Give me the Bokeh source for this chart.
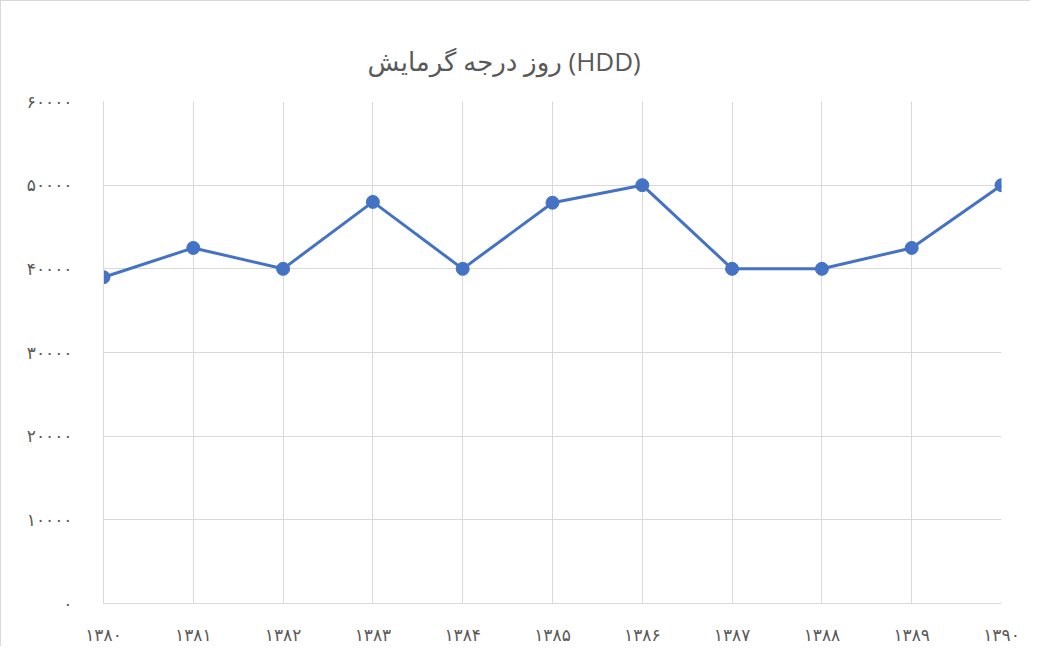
from bokeh.plotting import figure
from bokeh.models import Range1d, FixedTicker
from bokeh.embed import file_html
from bokeh.resources import INLINE

years = [1380, 1381, 1382, 1383, 1384, 1385, 1386, 1387, 1388, 1389, 1390]
hdd = [39000, 42500, 40000, 48000, 40000, 47900, 50000, 40000, 40000, 42500, 50000]
x_labels = ["۱۳۸۰", "۱۳۸۱", "۱۳۸۲", "۱۳۸۳", "۱۳۸۴", "۱۳۸۵", "۱۳۸۶", "۱۳۸۷", "۱۳۸۸", "۱۳۸۹", "۱۳۹۰"]
y_ticks = [0, 10000, 20000, 30000, 40000, 50000, 60000]
y_labels = ["۰", "۱۰۰۰۰", "۲۰۰۰۰", "۳۰۰۰۰", "۴۰۰۰۰", "۵۰۰۰۰", "۶۰۰۰۰"]
title_text = "روز درجه گرمایش (HDD)"

FONT = "DejaVu Sans, sans-serif"
TFONT = "Open Sans, DejaVu Sans, sans-serif"
GRAY = "#595959"
GRID = "#d9d9d9"

p = figure(width=1030, height=646, output_backend="svg", toolbar_location=None,
           x_range=Range1d(years[0], years[-1]), y_range=Range1d(0, 60000),
           min_border_left=102, min_border_right=30, min_border_top=100, min_border_bottom=44)

p.outline_line_color = None
p.styles = {"border-left": "1px solid #d9d9d9", "border-top": "1px solid #d9d9d9"}

p.title.text = title_text
p.title.align = "left"
p.title.offset = 264
p.title.standoff = 45
p.title.text_font = TFONT
p.title.text_font_size = "26px"
p.title.text_font_style = "normal"
p.title.text_color = GRAY

p.xaxis.ticker = FixedTicker(ticks=years)
p.xaxis.major_label_overrides = {y: l for y, l in zip(years, x_labels)}
p.yaxis.ticker = FixedTicker(ticks=y_ticks)
p.yaxis.major_label_overrides = {t: l for t, l in zip(y_ticks, y_labels)}

for ax in (p.xaxis, p.yaxis):
    ax.axis_line_color = GRID
    ax.axis_line_width = 1
    ax.major_tick_line_color = None
    ax.minor_tick_line_color = None
    ax.major_label_text_font = FONT
    ax.major_label_text_font_size = "17px"
    ax.major_label_text_color = GRAY
p.xaxis.major_label_standoff = 15
p.yaxis.major_label_standoff = 25

p.xgrid.ticker = FixedTicker(ticks=years)
p.ygrid.ticker = FixedTicker(ticks=y_ticks)
p.xgrid.grid_line_color = GRID
p.ygrid.grid_line_color = GRID

p.line(years, hdd, line_color="#4472C4", line_width=3)
p.scatter(years, hdd, size=13, fill_color="#4472C4", line_color="#4472C4")

open("out.html", "w").write(file_html(p, INLINE))
